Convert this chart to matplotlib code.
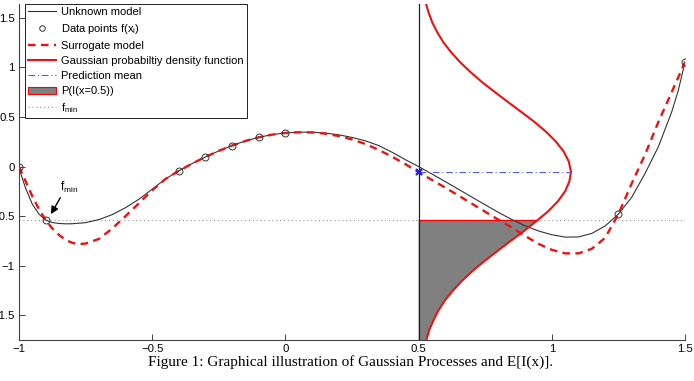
import matplotlib
matplotlib.use("Agg")
import matplotlib.pyplot as plt
from matplotlib.lines import Line2D
from matplotlib.patches import Patch
import numpy as np

plt.rcParams['font.family'] = ['Liberation Sans', 'DejaVu Sans']
plt.rcParams['mathtext.fontset'] = 'custom'
plt.rcParams['mathtext.rm'] = 'Liberation Sans'

# unknown model (black line)
x_unknown = [-1.0, -0.99, -0.975, -0.95, -0.925, -0.9, -0.875, -0.85, -0.825, -0.8,
             -0.75, -0.7, -0.65, -0.6, -0.55, -0.5, -0.45, -0.4, -0.35, -0.3,
             -0.25, -0.2, -0.15, -0.1, -0.05, 0.0, 0.05, 0.1, 0.15, 0.2,
             0.25, 0.3, 0.35, 0.4, 0.45, 0.5, 0.55, 0.6, 0.65, 0.7,
             0.75, 0.8, 0.85, 0.9, 0.95, 1.0, 1.05, 1.1, 1.15, 1.2,
             1.25, 1.3, 1.35, 1.4, 1.45, 1.475, 1.5]
y_unknown = [0.0, -0.1, -0.22, -0.38, -0.48, -0.54, -0.565, -0.574, -0.578, -0.577,
             -0.566, -0.535, -0.485, -0.415, -0.33, -0.228, -0.125, -0.043, 0.03, 0.097,
             0.158, 0.212, 0.258, 0.295, 0.322, 0.339, 0.347, 0.347, 0.338, 0.32,
             0.294, 0.26, 0.212, 0.145, 0.07, 0.0, -0.075, -0.152, -0.23, -0.308,
             -0.386, -0.463, -0.535, -0.598, -0.65, -0.688, -0.712, -0.71, -0.675, -0.6,
             -0.48, -0.31, -0.07, 0.2, 0.55, 0.77, 1.055]

# surrogate model (red dashed)
x_surrogate = [-1.0, -0.975, -0.95, -0.925, -0.9, -0.875, -0.85, -0.825, -0.8, -0.775,
               -0.75, -0.7, -0.65, -0.6, -0.55, -0.5, -0.45, -0.4, -0.35, -0.3,
               -0.25, -0.2, -0.15, -0.1, -0.05, 0.0, 0.05, 0.1, 0.15, 0.2,
               0.25, 0.3, 0.35, 0.4, 0.45, 0.5, 0.55, 0.6, 0.65, 0.7,
               0.75, 0.8, 0.85, 0.9, 0.95, 1.0, 1.05, 1.1, 1.15, 1.2,
               1.25, 1.3, 1.35, 1.4, 1.45, 1.5]
y_surrogate = [0.0, -0.15, -0.3, -0.43, -0.54, -0.625, -0.69, -0.74, -0.77, -0.782,
               -0.777, -0.73, -0.625, -0.5, -0.37, -0.24, -0.125, -0.043, 0.03, 0.097,
               0.158, 0.212, 0.258, 0.295, 0.322, 0.339, 0.345, 0.344, 0.332, 0.308,
               0.274, 0.228, 0.168, 0.1, 0.025, -0.057, -0.135, -0.213, -0.293, -0.375,
               -0.456, -0.537, -0.615, -0.7, -0.78, -0.84, -0.876, -0.876, -0.83, -0.72,
               -0.48, -0.17, 0.12, 0.45, 0.75, 1.055]

# sampled data points
x_data = [-1.0, -0.9, -0.4, -0.3, -0.2, -0.1, 0.0, 1.25, 1.5]
y_data = [0.0, -0.54, -0.043, 0.097, 0.212, 0.295, 0.339, -0.48, 1.055]

# gaussian pdf at x = 0.5 (horizontal width vs y)
x_query = 0.5
pred_mean = -0.057
f_min = -0.544
pdf_y = [-1.75, -1.65, -1.55, -1.45, -1.35, -1.25, -1.15, -1.05, -0.95, -0.85,
         -0.75, -0.65, -0.544, -0.45, -0.35, -0.25, -0.15, -0.057, 0.05, 0.15,
         0.25, 0.35, 0.45, 0.55, 0.65, 0.75, 0.85, 0.95, 1.05, 1.15,
         1.25, 1.35, 1.45, 1.55, 1.64]
pdf_w = [0.029, 0.040, 0.056, 0.075, 0.099, 0.129, 0.164, 0.204, 0.249, 0.297,
         0.346, 0.396, 0.445, 0.487, 0.523, 0.550, 0.566, 0.572, 0.564, 0.545,
         0.516, 0.479, 0.435, 0.386, 0.336, 0.287, 0.239, 0.196, 0.157, 0.123,
         0.094, 0.071, 0.052, 0.038, 0.028]

fig = plt.figure(figsize=(6.94, 3.81), dpi=100)
ax = fig.add_axes([19 / 694, 41 / 381, 666 / 694, 336 / 381])

pdf_y = np.array(pdf_y)
pdf_x = x_query + np.array(pdf_w)
below = pdf_y <= f_min + 1e-9

ax.fill_betweenx(pdf_y[below], x_query, pdf_x[below], facecolor='#808080',
                 edgecolor='none', zorder=1)
ax.plot([x_query, pdf_x[below][-1]], [f_min, f_min], color='red', lw=1.0, zorder=2)

ax.axhline(f_min, color='#999999', ls=(0, (1, 2.5)), lw=0.8, zorder=1)
ax.axvline(x_query, color='#222222', lw=0.9, zorder=3)

ax.plot(x_unknown, y_unknown, color='#333333', lw=0.8, zorder=4)
ax.plot(x_surrogate, y_surrogate, color='#ee1111', lw=1.7, ls=(0, (3.2, 2.3)), zorder=5)
ax.plot(pdf_x, pdf_y, color='#ee1111', lw=1.5, zorder=5)
ax.plot([x_query, x_query + max(pdf_w)], [pred_mean, pred_mean], color='#5a5af0',
        lw=0.8, ls=(0, (6, 2.5, 1, 2.5)), zorder=6)
ax.plot(x_data, y_data, 'o', mfc='none', mec='#333333', ms=5, mew=0.7, zorder=7)
ax.plot([x_query], [pred_mean], 'x', color='#1a1aff', ms=5, mew=1.6, zorder=8)

ax.annotate('', xy=(-0.88, -0.48), xytext=(-0.845, -0.315),
            arrowprops=dict(arrowstyle='-|>', color='black', lw=1.0, mutation_scale=11,
                            shrinkA=0, shrinkB=0))
ax.text(-0.845, -0.285, r'f$_\mathregular{min}$', fontsize=8.5, ha='left', va='bottom')

ax.set_xlim(-1, 1.5)
ax.set_ylim(-1.75, 1.64)
ax.set_xticks([-1, -0.5, 0, 0.5, 1, 1.5])
ax.set_xticklabels(['\u22121', '\u22120.5', '0', '0.5', '1', '1.5'])
ax.set_yticks([-1.5, -1, -0.5, 0, 0.5, 1, 1.5])
ax.set_yticklabels(['\u22121.5', '\u22121', '\u22120.5', '0', '0.5', '1', '1.5'])
ax.tick_params(direction='in', length=4, width=0.7, labelsize=8.2, pad=3,
               color='#444444')
for s in ['top', 'right']:
    ax.spines[s].set_visible(False)
for s in ['left', 'bottom']:
    ax.spines[s].set_color('#444444')
    ax.spines[s].set_linewidth(0.8)

handles = [
    Line2D([], [], color='#333333', lw=0.8),
    Line2D([], [], ls='none', marker='o', mfc='none', mec='#333333', ms=4, mew=0.7),
    Line2D([], [], color='#ee1111', lw=1.7, ls=(0, (3.2, 2.3))),
    Line2D([], [], color='#ee1111', lw=1.5),
    Line2D([], [], color='#5a5af0', lw=0.8, ls=(0, (6, 2.5, 1, 2.5))),
    Patch(facecolor='#808080', edgecolor='red', lw=0.8),
    Line2D([], [], color='#999999', lw=0.8, ls=(0, (1, 2.5))),
]
labels = ['Unknown model', r'Data points f(x$_\mathregular{i}$)', 'Surrogate model',
          'Gaussian probabiltiy density function', 'Prediction mean', 'P(I(x=0.5))',
          r'f$_\mathregular{min}$']
leg = ax.legend(handles, labels, loc='upper left', bbox_to_anchor=(0.009, 1.0),
                borderaxespad=0, fontsize=8.0, frameon=True, fancybox=False,
                edgecolor='#222222', framealpha=1, borderpad=0.3, handlelength=2.5,
                handletextpad=0.45, labelspacing=0.45)
leg.get_frame().set_linewidth(0.7)

fig.text(350 / 694, 1 - 362 / 381,
         'Figure 1: Graphical illustration of Gaussian Processes and E[I(x)].',
         family='Liberation Serif', fontsize=11, ha='center', va='center')

fig.savefig('out.png', dpi=100)
